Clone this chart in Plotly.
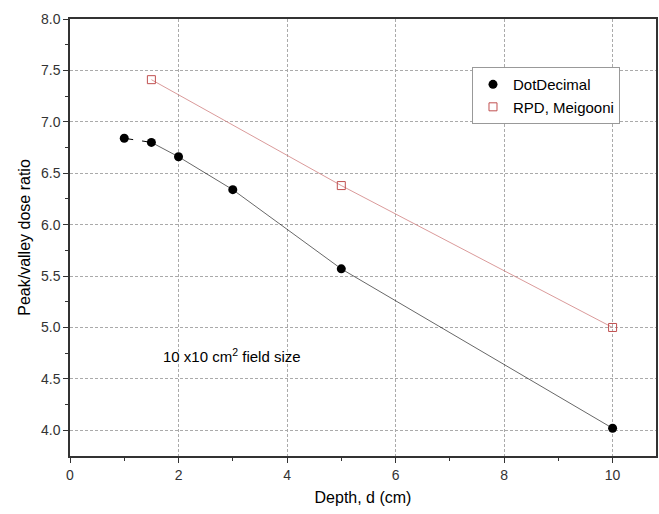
import plotly.graph_objects as go

dot_depth = [1.0, 1.5, 2.0, 3.0, 5.0, 10.0]
dot_ratio = [6.84, 6.80, 6.66, 6.34, 5.57, 4.02]
rpd_depth = [1.5, 5.0, 10.0]
rpd_ratio = [7.41, 6.38, 5.00]

FONT = "Arial, Liberation Sans, sans-serif"

fig = go.Figure()
# dashed first segment of DotDecimal
fig.add_trace(go.Scatter(x=dot_depth[:2], y=dot_ratio[:2], mode="lines",
                         line=dict(color="black", width=1, dash="dash"),
                         showlegend=False, hoverinfo="skip"))
fig.add_trace(go.Scatter(x=dot_depth[1:], y=dot_ratio[1:], mode="lines",
                         line=dict(color="black", width=0.6),
                         showlegend=False, hoverinfo="skip"))
fig.add_trace(go.Scatter(x=rpd_depth, y=rpd_ratio, mode="lines",
                         line=dict(color="#d08080", width=0.8),
                         showlegend=False, hoverinfo="skip"))
fig.add_trace(go.Scatter(x=dot_depth, y=dot_ratio, mode="markers", name="DotDecimal",
                         marker=dict(symbol="circle", size=9, color="black")))
fig.add_trace(go.Scatter(x=rpd_depth, y=rpd_ratio, mode="markers", name="RPD, Meigooni",
                         marker=dict(symbol="square-open", size=8, color="#c05050",
                                     line=dict(width=1))))

fig.add_annotation(x=1.68, y=4.73, xref="x", yref="y", xanchor="left", yanchor="middle",
                   text="10 x10 cm<sup>2</sup> field size", showarrow=False,
                   font=dict(family=FONT, size=15, color="black"))

axis_common = dict(showline=True, linecolor="#333", linewidth=1.5, mirror=True,
                   ticks="outside", ticklen=5, tickcolor="#333",
                   showgrid=True, gridcolor="#aaa", griddash="3px,2px", gridwidth=0.8,
                   zeroline=False,
                   tickfont=dict(family=FONT, size=14, color="#333"))

fig.update_xaxes(range=[0, 10.8], tickvals=[0, 2, 4, 6, 8, 10],
                 minor=dict(ticks="outside", tickvals=[1, 3, 5, 7, 9], ticklen=3,
                            tickcolor="#333", showgrid=False),
                 title=dict(text="Depth, d (cm)", standoff=10,
                            font=dict(family=FONT, size=16, color="black")),
                 **axis_common)
fig.update_yaxes(range=[3.75, 8.0], tickvals=[4.0, 4.5, 5.0, 5.5, 6.0, 6.5, 7.0, 7.5, 8.0],
                 tickformat=".1f",
                 minor=dict(ticks="outside", tickvals=[4.25, 4.75, 5.25, 5.75, 6.25, 6.75, 7.25, 7.75],
                            ticklen=3, tickcolor="#333", showgrid=False),
                 title=dict(text="Peak/valley dose ratio", standoff=6,
                            font=dict(family=FONT, size=16, color="black")),
                 **axis_common)

fig.update_layout(width=659, height=514, margin=dict(l=70, r=1, t=19, b=58),
                  plot_bgcolor="white", paper_bgcolor="white",
                  legend=dict(x=0.686, y=0.89, xanchor="left", yanchor="top",
                              bgcolor="white", bordercolor="#999", borderwidth=1,
                              font=dict(family=FONT, size=15, color="black"),
                              itemwidth=30, tracegroupgap=0))

fig.write_html("out.html")
